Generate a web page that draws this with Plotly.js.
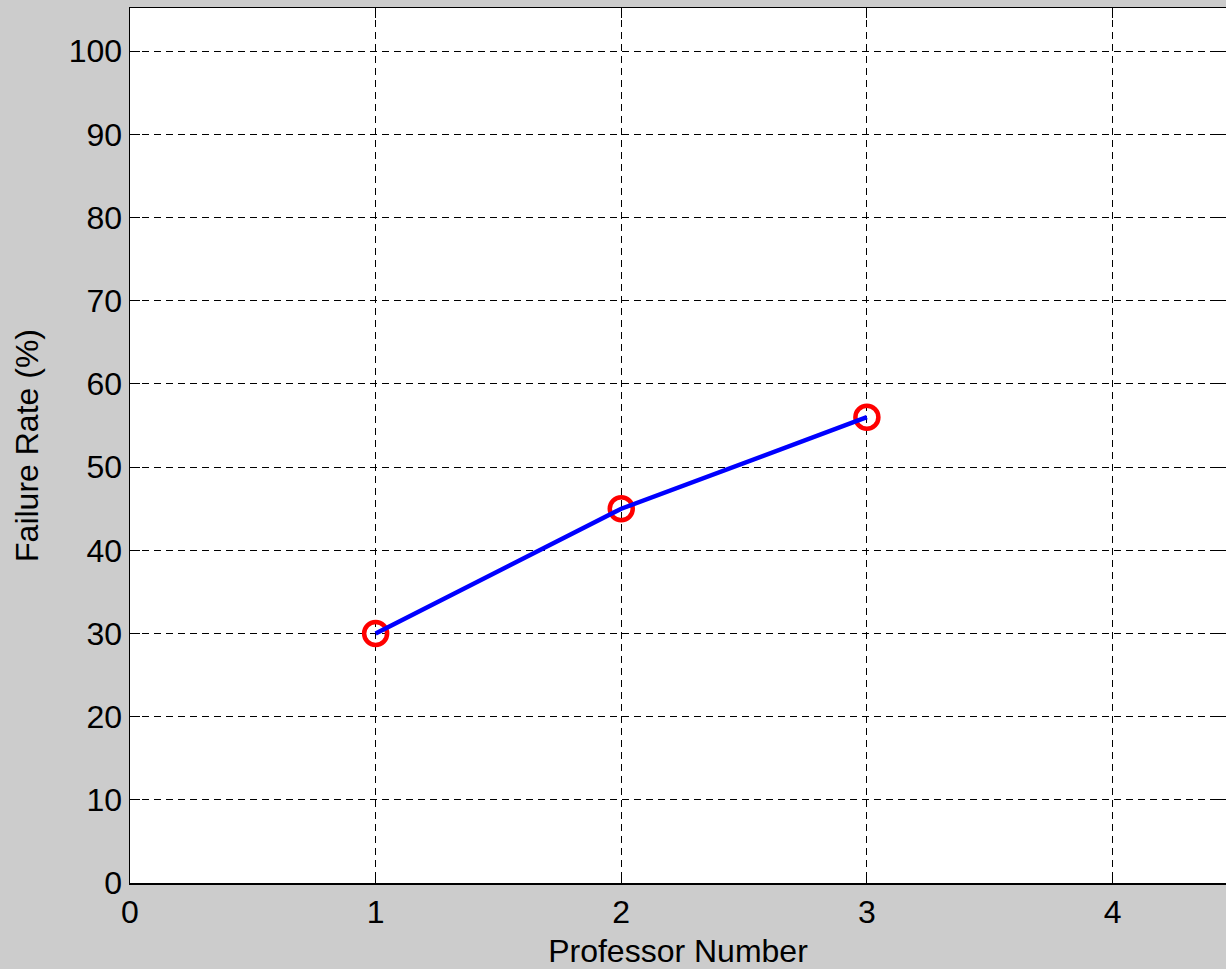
<!DOCTYPE html>
<html>
<head>
<meta charset="utf-8">
<script src="https://cdn.plot.ly/plotly-3.0.1.min.js"></script>
<style>
html,body{margin:0;padding:0;background:#cccccc;}
#chart{width:1226px;height:969px;}
</style>
</head>
<body>
<div id="chart"></div>
<script>
const professors = [1, 2, 3];
const failureRates = [30, 45, 56];
const xTicks = [0, 1, 2, 3, 4];
const yTicks = [0, 10, 20, 30, 40, 50, 60, 70, 80, 90, 100];

const FONT = 'Liberation Sans, Arial, sans-serif';
const FS = 32;

const markerTrace = {
  x: professors, y: failureRates,
  mode: 'markers', type: 'scatter',
  marker: {symbol: 'circle-open', size: 23, color: '#ff0000', line: {width: 4.5, color: '#ff0000'}},
  showlegend: false, hoverinfo: 'skip'
};
const lineTrace = {
  x: professors, y: failureRates,
  mode: 'lines', type: 'scatter',
  line: {color: '#0000ff', width: 4.5},
  showlegend: false
};

const layout = {
  width: 1226, height: 969,
  paper_bgcolor: '#cccccc',
  plot_bgcolor: '#ffffff',
  margin: {l: 130, r: 0, t: 8, b: 86, pad: 0},
  font: {family: FONT, size: FS, color: '#000000'},
  xaxis: {
    range: [0, 4.462], tickvals: xTicks, ticktext: xTicks.map(String),
    showgrid: true, gridcolor: '#000000', gridwidth: 1, griddash: '7px,5px',
    zeroline: false, showline: true, linecolor: '#000000', linewidth: 1.5,
    ticks: 'inside', ticklen: 10, tickcolor: '#000000', mirror: 'ticks',
    tickfont: {family: FONT, size: FS},
    title: {text: 'Professor Number', font: {family: FONT, size: FS}, standoff: 12}
  },
  yaxis: {
    range: [0, 105.2], tickvals: yTicks, ticktext: yTicks.map(String),
    showgrid: true, gridcolor: '#000000', gridwidth: 1, griddash: '7px,5px',
    zeroline: false, showline: true, linecolor: '#000000', linewidth: 1.5,
    ticks: 'inside', ticklen: 10, tickcolor: '#000000', mirror: 'ticks',
    tickfont: {family: FONT, size: FS},
    title: {text: 'Failure Rate (%)', font: {family: FONT, size: FS}, standoff: 20}
  }
};

Plotly.newPlot('chart', [markerTrace, lineTrace], layout, {displayModeBar: false, staticPlot: true});
</script>
</body>
</html>
